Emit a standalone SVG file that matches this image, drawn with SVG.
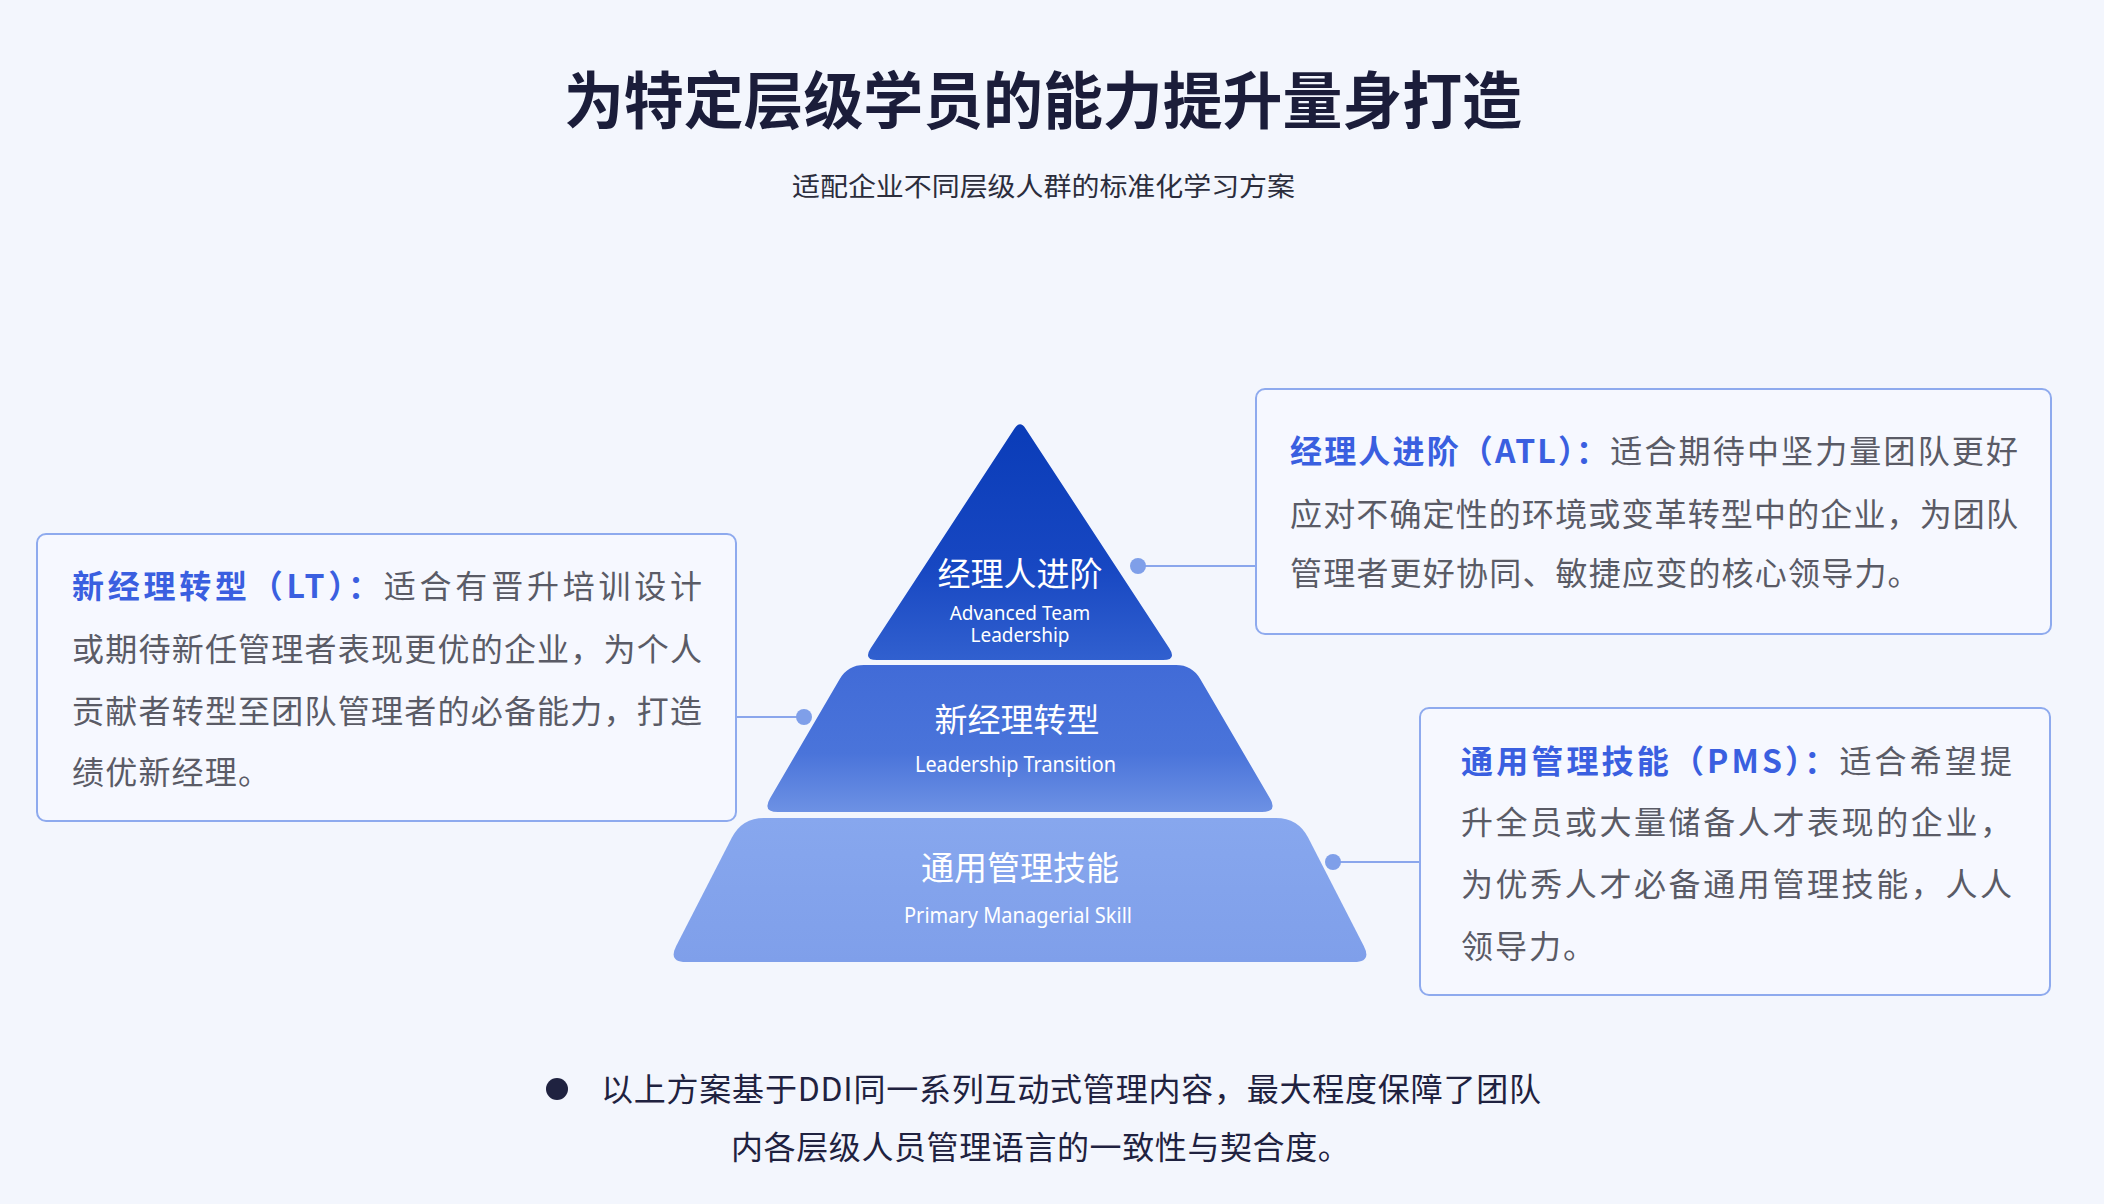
<svg xmlns="http://www.w3.org/2000/svg" width="2104" height="1204" viewBox="0 0 2104 1204">
<defs>
<linearGradient id="gTop" x1="0" y1="0" x2="0" y2="1">
<stop offset="0" stop-color="#0a3cb8"/>
<stop offset="0.6" stop-color="#1747c2"/>
<stop offset="1" stop-color="#3160cf"/>
</linearGradient>
<linearGradient id="gMid" x1="0" y1="0" x2="0" y2="1">
<stop offset="0" stop-color="#416bd7"/>
<stop offset="0.6" stop-color="#4a74da"/>
<stop offset="1" stop-color="#6d91e4"/>
</linearGradient>
<linearGradient id="gBot" x1="0" y1="0" x2="0" y2="1">
<stop offset="0" stop-color="#87a7ee"/>
<stop offset="1" stop-color="#7f9fea"/>
</linearGradient>
<style>
.cjk{font-family:"Noto Sans CJK SC","Noto Sans",sans-serif;}
.title{font-size:62px;font-weight:700;fill:#1b1d3a;}
.sub{font-size:26px;fill:#2b2d3c;}
.box{fill:#f6f8ff;stroke:#8eaaee;stroke-width:2;}
.body{font-size:32px;fill:#5a5b66;}
.head{fill:#3a5fe0;font-weight:700;}
.tierCn{font-size:33px;fill:#ffffff;}
.tierEn{font-family:"Noto Sans",sans-serif;font-size:19px;fill:#ffffff;}
.tierEn2{font-family:"Noto Sans",sans-serif;font-size:21px;fill:#ffffff;}
.conn{stroke:#8aa6ec;stroke-width:2;fill:none;}
.dot{fill:#7f9fe9;}
.foot{font-size:32px;fill:#1f2240;}
</style>
</defs>
<rect x="0" y="0" width="2104" height="1204" fill="#f3f6fd"/>

<g id="title">
<text class="cjk title" x="564" y="124" textLength="958" lengthAdjust="spacingAndGlyphs">为特定层级学员的能力提升量身打造</text>
<text class="cjk sub" x="792" y="196" textLength="503" lengthAdjust="spacingAndGlyphs">适配企业不同层级人群的标准化学习方案</text>
</g>

<g id="connectors">
<line class="conn" x1="1138" y1="566" x2="1256" y2="566"/>
<circle class="dot" cx="1138" cy="566" r="8"/>
<line class="conn" x1="736" y1="717" x2="804" y2="717"/>
<circle class="dot" cx="804" cy="717" r="8"/>
<line class="conn" x1="1333" y1="862" x2="1420" y2="862"/>
<circle class="dot" cx="1333" cy="862" r="8"/>
</g>

<g id="tier-atl">
<path d="M1014.5,428.4 Q1020,420 1025.5,428.4 L1169.3,648.3 Q1177,660 1163,660 L877,660 Q863,660 870.7,648.3 Z" fill="url(#gTop)"/>
<text class="cjk tierCn" x="1020" y="586" text-anchor="middle">经理人进阶</text>
<text class="tierEn" x="1020" y="620" text-anchor="middle">Advanced Team</text>
<text class="tierEn" x="1020" y="642" text-anchor="middle">Leadership</text>
</g>

<g id="tier-lt">
<path d="M864,665 L1176,665 Q1192,665 1200.1,678.8 L1269.9,798.2 Q1278,812 1262,812 L778,812 Q762,812 770.1,798.2 L839.9,678.8 Q848,665 864,665 Z" fill="url(#gMid)"/>
<text class="cjk tierCn" x="1017" y="732" text-anchor="middle">新经理转型</text>
<text class="tierEn2" x="915" y="772" textLength="201" lengthAdjust="spacingAndGlyphs">Leadership Transition</text>
</g>

<g id="tier-pms">
<path d="M764,818 L1276,818 Q1298,818 1308.1,837.6 L1363.8,946 Q1372,962 1354,962 L686,962 Q668,962 676.2,946 L731.9,837.6 Q742,818 764,818 Z" fill="url(#gBot)"/>
<text class="cjk tierCn" x="1020" y="880" text-anchor="middle">通用管理技能</text>
<text class="tierEn2" x="904" y="923" textLength="228" lengthAdjust="spacingAndGlyphs">Primary Managerial Skill</text>
</g>

<g id="box-lt">
<rect class="box" x="37" y="534" width="699" height="287" rx="9"/>
<text class="cjk body" x="72" y="598" textLength="630" lengthAdjust="spacing"><tspan class="head">新经理转型（LT）：</tspan>适合有晋升培训设计</text>
<text class="cjk body" x="72" y="661" textLength="630" lengthAdjust="spacing">或期待新任管理者表现更优的企业，为个人</text>
<text class="cjk body" x="72" y="723" textLength="630" lengthAdjust="spacing">贡献者转型至团队管理者的必备能力，打造</text>
<text class="cjk body" x="72" y="784" letter-spacing="1.2">绩优新经理。</text>
</g>

<g id="box-atl">
<rect class="box" x="1256" y="389" width="795" height="245" rx="9"/>
<text class="cjk body" x="1290" y="463" textLength="728" lengthAdjust="spacing"><tspan class="head">经理人进阶（ATL）：</tspan>适合期待中坚力量团队更好</text>
<text class="cjk body" x="1290" y="526" textLength="728" lengthAdjust="spacing">应对不确定性的环境或变革转型中的企业，为团队</text>
<text class="cjk body" x="1290" y="585" letter-spacing="1.2">管理者更好协同、敏捷应变的核心领导力。</text>
</g>

<g id="box-pms">
<rect class="box" x="1420" y="708" width="630" height="287" rx="9"/>
<text class="cjk body" x="1461" y="773" textLength="551" lengthAdjust="spacing"><tspan class="head">通用管理技能（PMS）：</tspan>适合希望提</text>
<text class="cjk body" x="1461" y="834" textLength="551" lengthAdjust="spacing">升全员或大量储备人才表现的企业，</text>
<text class="cjk body" x="1461" y="896" textLength="551" lengthAdjust="spacing">为优秀人才必备通用管理技能，人人</text>
<text class="cjk body" x="1461" y="958" letter-spacing="2">领导力。</text>
</g>

<g id="footnote">
<circle cx="557" cy="1089" r="11" fill="#1f2240"/>
<text class="cjk foot" x="601" y="1101" textLength="940" lengthAdjust="spacing">以上方案基于DDI同一系列互动式管理内容，最大程度保障了团队</text>
<text class="cjk foot" x="731" y="1159" letter-spacing="0.6">内各层级人员管理语言的一致性与契合度。</text>
</g>
</svg>
